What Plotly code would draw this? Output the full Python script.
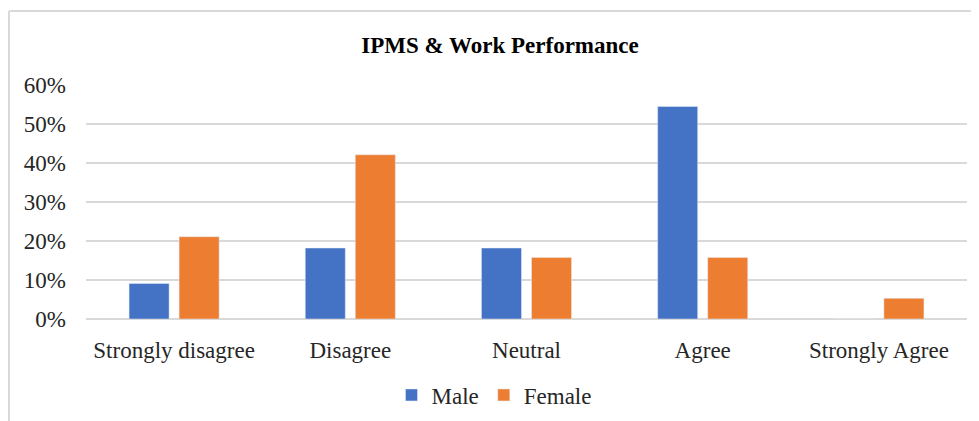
import plotly.graph_objects as go

categories = ["Strongly disagree", "Disagree", "Neutral", "Agree", "Strongly Agree"]
male = [0.091, 0.182, 0.182, 0.545, 0.0]
female = [0.211, 0.421, 0.158, 0.158, 0.053]
tick_vals = [0, 0.1, 0.2, 0.3, 0.4, 0.5, 0.6]
tick_text = ["0%", "10%", "20%", "30%", "40%", "50%", "60%"]

OFF = 8  # page body margin
W, H = 979 - OFF, 421 - OFF
L, R, T, B = 86 - OFF, 12, 85 - OFF, 102
pw = W - L - R
ph = H - T - B

def px_x(x):
    return (x - OFF - L) / pw

def px_y(y):
    return (H - B - (y - OFF)) / ph

font_family = "Liberation Serif, Times New Roman, serif"

fig = go.Figure()
fig.add_trace(go.Bar(x=categories, y=male, name="Male", marker_color="#4472C4"))
fig.add_trace(go.Bar(x=categories, y=female, name="Female", marker_color="#ED7D31"))

fig.update_layout(
    width=W, height=H,
    margin=dict(l=L, r=R, t=T, b=B, autoexpand=False),
    paper_bgcolor="white", plot_bgcolor="white",
    barmode="group", bargap=0.432, bargroupgap=0.2,
    font=dict(family=font_family, size=23, color="#262626"),
    title=dict(text="<b>IPMS & Work Performance</b>", x=(500 - OFF) / W, xref="container",
               xanchor="center", y=1 - (45 - OFF) / H, yref="container", yanchor="middle",
               font=dict(family=font_family, size=23, color="#000000")),
    legend=dict(orientation="h", x=px_x(494), xanchor="center", y=px_y(395), yanchor="middle",
                font=dict(family=font_family, size=23, color="#262626"), traceorder="normal"),
    showlegend=True,
)
fig.update_yaxes(range=[0, 0.6], tickvals=tick_vals, ticktext=tick_text,
                 showgrid=True, gridcolor="#d9d9d9", gridwidth=1.5,
                 zeroline=True, zerolinecolor="#d9d9d9", zerolinewidth=1.5,
                 showline=False, ticks="", ticklabelstandoff=19)
fig.update_xaxes(showgrid=False, showline=False, ticks="", ticklabelstandoff=15)

line_style = dict(color="#d9d9d9", width=2)
fig.add_shape(type="line", xref="paper", yref="paper", x0=px_x(9), x1=px_x(9),
              y0=px_y(11), y1=px_y(421), line=line_style)
fig.add_shape(type="line", xref="paper", yref="paper", x0=px_x(9), x1=px_x(979),
              y0=px_y(11), y1=px_y(11), line=line_style)

fig.write_html("out.html")
